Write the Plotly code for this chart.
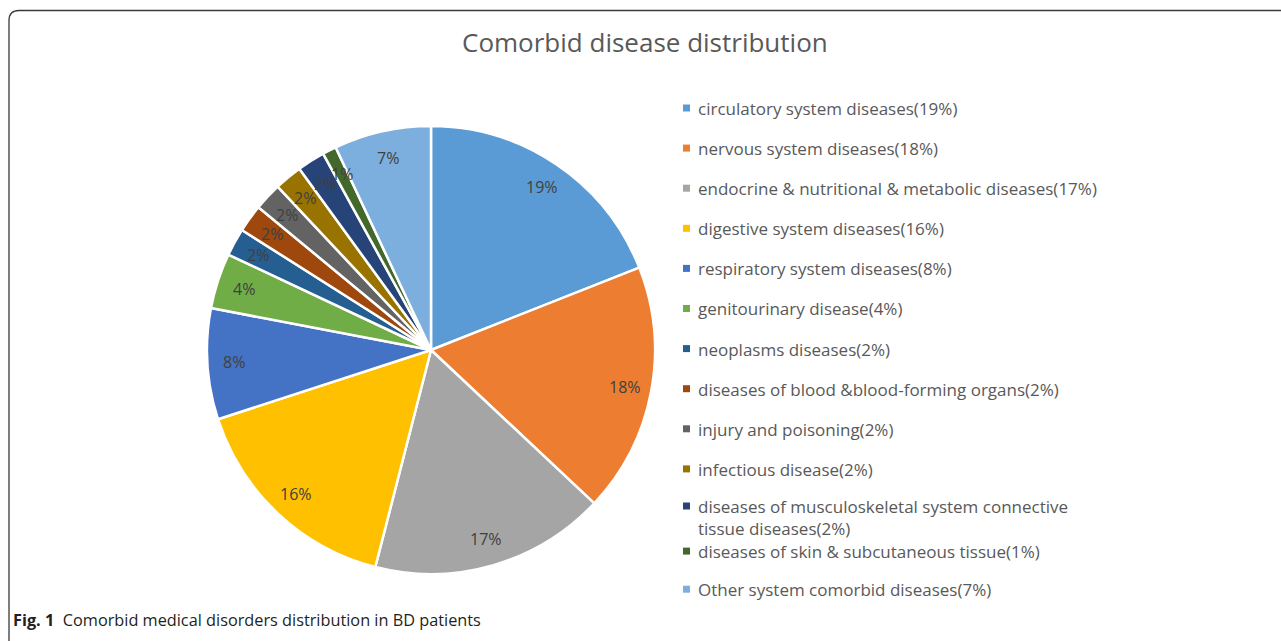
import math
import plotly.graph_objects as go

# ---- data ----
categories = [
    "circulatory system diseases",
    "nervous system diseases",
    "endocrine & nutritional & metabolic diseases",
    "digestive system diseases",
    "respiratory system diseases",
    "genitourinary disease",
    "neoplasms diseases",
    "diseases of blood &blood-forming organs",
    "injury and poisoning",
    "infectious disease",
    "diseases of musculoskeletal system connective<br>tissue diseases",
    "diseases of skin & subcutaneous tissue",
    "Other system comorbid diseases",
]
percent_values = [19, 18, 17, 16, 8, 4, 2, 2, 2, 2, 2, 1, 7]
slice_colors = [
    "#5B9BD5", "#ED7D31", "#A5A5A5", "#FFC000", "#4472C4", "#70AD47",
    "#255E91", "#9E480E", "#636363", "#997300", "#264478", "#43682B",
    "#7CAFDD",
]
title_text = "Comorbid disease distribution"
caption_bold = "Fig. 1"
caption_text = "Comorbid medical disorders distribution in BD patients"

# ---- layout constants (pixels) ----
W, H = 1281, 641
CX, CY, R = 431, 350, 224
LABEL_R = 197

def px(x):
    return x / W

def py(y):
    return 1 - y / H

fig = go.Figure()
fig.add_trace(go.Pie(
    labels=categories,
    values=percent_values,
    sort=False,
    direction="clockwise",
    rotation=0,
    marker=dict(colors=slice_colors, line=dict(color="white", width=2.5)),
    textinfo="none",
    hoverinfo="label+percent",
    showlegend=False,
    domain=dict(x=[px(CX - R), px(CX + R)], y=[py(CY + R), py(CY - R)]),
))

annotations = []
# slice labels, positioned from the cumulative values
total = sum(percent_values)
cum = 0
for v in percent_values:
    mid = (cum + v / 2) / total
    theta = math.radians(90 - 360 * mid)
    lx = CX + LABEL_R * math.cos(theta)
    ly = CY - LABEL_R * math.sin(theta)
    annotations.append(dict(
        x=px(lx), y=py(ly), xref="paper", yref="paper",
        text=f"{v}%", showarrow=False,
        font=dict(family="Open Sans", size=16, color="#404040"),
        xanchor="center", yanchor="middle",
    ))
    cum += v

# custom legend
shapes = []
LEG_X_MARK = 683
LEG_X_TEXT = 697
LEG_Y0 = 108
LEG_DY = 40.1
LEG_FONT = 17
for i, (cat, v, col) in enumerate(zip(categories, percent_values, slice_colors)):
    yc = LEG_Y0 + LEG_DY * i
    nlines = cat.count("<br>") + 1
    if nlines > 1:
        yc -= 3          # wrapped entry sits a little higher
    elif i > 0 and categories[i - 1].count("<br>"):
        yc += 2          # entry below a wrapped one
    shapes.append(dict(
        type="rect", xref="paper", yref="paper",
        x0=px(LEG_X_MARK), x1=px(LEG_X_MARK + 7),
        y0=py(yc + 3.5), y1=py(yc - 3.5),
        fillcolor=col, line=dict(width=0),
    ))
    annotations.append(dict(
        x=px(LEG_X_TEXT), y=py(yc - 12), xref="paper", yref="paper",
        text=f"{cat}({v}%)", showarrow=False, align="left",
        font=dict(family="Open Sans", size=LEG_FONT, color="#595959"),
        xanchor="left", yanchor="top", borderpad=0,
    ))

# title
annotations.append(dict(
    x=px(645), y=py(42), xref="paper", yref="paper",
    text=title_text, showarrow=False,
    font=dict(family="Open Sans", size=26, color="#595959"),
    xanchor="center", yanchor="middle",
))
# caption
annotations.append(dict(
    x=px(11), y=py(620), xref="paper", yref="paper",
    text=f"<b>{caption_bold}</b>  {caption_text}", showarrow=False,
    font=dict(family="Open Sans", size=16.3, color="#231F20"),
    xanchor="left", yanchor="middle",
))

# rounded frame
bx, by, rr = 9, 10.5, 10
path = (
    f"M {px(bx)},{py(H + 20)} L {px(bx)},{py(by + rr)} "
    f"Q {px(bx)},{py(by)} {px(bx + rr)},{py(by)} L {px(W + 20)},{py(by)}"
)
shapes.append(dict(type="path", xref="paper", yref="paper", path=path,
                   line=dict(color="#3A3A3A", width=1.3)))

fig.update_layout(
    width=W, height=H,
    margin=dict(l=0, r=0, t=0, b=0),
    paper_bgcolor="white", plot_bgcolor="white",
    annotations=annotations, shapes=shapes,
)
fig.write_html(
    "out.html",
    config={"displayModeBar": False},
    post_script="document.body.style.margin='0';document.body.style.overflow='hidden';",
)
